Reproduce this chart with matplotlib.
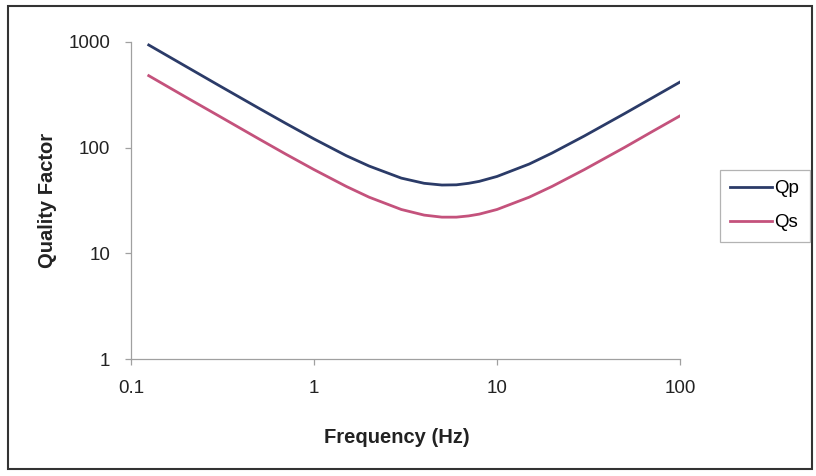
import matplotlib
matplotlib.use("Agg")
import matplotlib.pyplot as plt
from matplotlib.patches import Rectangle
from matplotlib.ticker import FixedLocator, FixedFormatter, NullLocator

freq = [0.125, 0.2, 0.3, 0.5, 0.7, 1, 1.5, 2, 3, 4, 5, 6, 7, 8, 10, 15, 20, 30, 50, 70, 100]
qp = [937, 586, 391, 236, 170, 121, 84, 67, 51.5, 46, 44.3, 44.5, 46, 48, 53.4, 70, 89, 129, 211, 294, 418]
qs = [480, 300, 201, 121, 87, 62, 43, 34, 26, 23, 22, 22, 22.6, 23.5, 26, 34, 43, 62, 101, 141, 200]

xticks = [0.1, 1, 10, 100]
xticklabels = ["0.1", "1", "10", "100"]
yticks = [1, 10, 100, 1000]
yticklabels = ["1", "10", "100", "1000"]

plt.rcParams['font.family'] = ['Liberation Sans', 'DejaVu Sans']

fig = plt.figure(figsize=(8.16, 4.76), dpi=100)
W, H = 816, 476
ax = fig.add_axes([131 / W, 1 - 359 / H, (680 - 131) / W, (359 - 42) / H])

ax.plot(freq, qp, color='#2b3b68', lw=2.0, label='Qp')
ax.plot(freq, qs, color='#c4527c', lw=2.0, label='Qs')

ax.set_xscale('log')
ax.set_yscale('log')
ax.set_xlim(0.1, 100)
ax.set_ylim(1, 1000)
ax.xaxis.set_major_locator(FixedLocator(xticks))
ax.xaxis.set_major_formatter(FixedFormatter(xticklabels))
ax.yaxis.set_major_locator(FixedLocator(yticks))
ax.yaxis.set_major_formatter(FixedFormatter(yticklabels))
ax.xaxis.set_minor_locator(NullLocator())
ax.yaxis.set_minor_locator(NullLocator())

for s in ['top', 'right']:
    ax.spines[s].set_visible(False)
for s in ['left', 'bottom']:
    ax.spines[s].set_color('#a0a0a0')
    ax.spines[s].set_linewidth(0.9)
ax.tick_params(axis='both', which='major', direction='out', length=4, width=0.9,
               color='#a0a0a0', labelsize=13.5, labelcolor='#222222')
ax.tick_params(axis='x', pad=11)
ax.tick_params(axis='y', pad=11)

ax.set_xlabel('Frequency (Hz)', fontsize=14.5, fontweight='bold', color='#222222')
ax.set_ylabel('Quality Factor', fontsize=14.5, fontweight='bold', color='#222222')
ax.xaxis.set_label_coords((397 - 131) / 549, (359 - 428) / 317)
ax.yaxis.set_label_coords((57 - 131) / 549, 0.5)

leg = fig.legend(loc='upper left', bbox_to_anchor=(720 / W, 1 - 170 / H),
                 fontsize=13.5, frameon=True, fancybox=False, handlelength=2.2,
                 handletextpad=0.15, borderaxespad=0, borderpad=0.55, labelspacing=0.9)
leg.get_frame().set_edgecolor('#a0a0a0')
leg.get_frame().set_linewidth(0.9)

fig.patches.append(Rectangle((8 / W, 1 - 469 / H), (812 - 8) / W, (469 - 6) / H,
                             transform=fig.transFigure, fill=False,
                             edgecolor='#333333', lw=1.5))

fig.savefig('out.png', dpi=100)
